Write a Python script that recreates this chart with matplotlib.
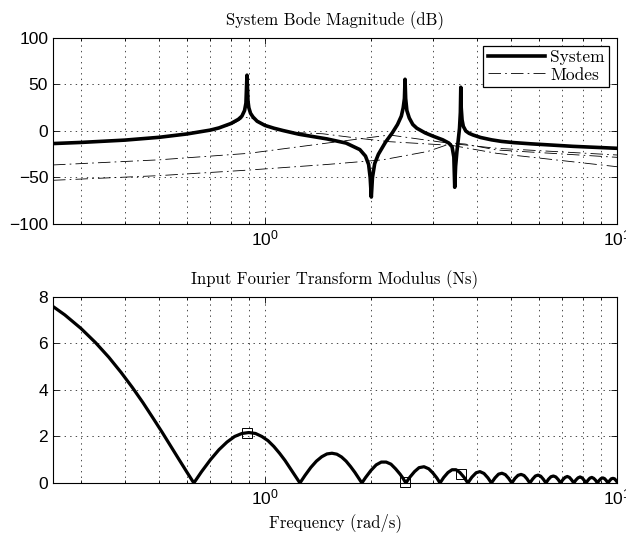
import matplotlib
matplotlib.use('Agg')
import matplotlib.pyplot as plt
from matplotlib.ticker import FixedLocator, NullFormatter

plt.rcParams['font.family'] = ['Liberation Sans', 'DejaVu Sans']
plt.rcParams['mathtext.fontset'] = 'custom'
plt.rcParams['mathtext.rm'] = 'Liberation Sans'
plt.rcParams['mathtext.it'] = 'Liberation Sans'
plt.rcParams['lines.scale_dashes'] = False

serif = ['cmr10', 'DejaVu Serif']

# system bode magnitude (rad/s, dB)
sys_w = [0.25, 0.3, 0.4, 0.5, 0.6, 0.7, 0.74, 0.8, 0.84, 0.86, 0.875, 0.883, 0.889,
         0.895, 0.9, 0.91, 0.925, 0.95, 1.0, 1.06, 1.125, 1.25, 1.5, 1.7, 1.86, 1.93,
         1.97, 1.99, 2.005, 2.02, 2.05, 2.1, 2.2, 2.3, 2.38, 2.44, 2.47, 2.49, 2.5,
         2.51, 2.53, 2.57, 2.63, 2.7, 2.85, 3.0, 3.2, 3.33, 3.4, 3.44, 3.46, 3.48,
         3.51, 3.54, 3.57, 3.59, 3.6, 3.61, 3.63, 3.66, 3.72, 3.8, 3.9, 4.1, 4.4,
         4.7, 5.1, 5.7, 7.5, 10.0]
sys_db = [-13.5, -12.3, -9.8, -6.8, -3.2, 1.0, 3.3, 8.0, 12.5, 16.0, 22.0, 30.0, 60.0,
          32.0, 25.0, 19.0, 15.0, 10.5, 6.0, 3.0, 0.5, -3.5, -8.5, -13.0, -20.0, -27.0,
          -36.0, -50.0, -71.0, -50.0, -35.0, -25.0, -12.0, -2.0, 7.0, 16.0, 25.0, 35.0, 55.6,
          35.0, 22.0, 14.0, 7.0, 3.0, -2.0, -5.5, -9.5, -13.0, -17.0, -28.0, -60.5, -38.0,
          -22.0, -10.0, 3.0, 20.0, 47.0, 25.0, 12.0, 5.0, 0.0, -2.5, -4.3, -7.0, -9.5,
          -11.2, -12.5, -13.8, -16.5, -18.6]

# modal contributions (dash-dot lines)
m1_w = [0.25, 0.5, 0.7, 0.8, 0.85, 0.87, 0.93, 1.0, 1.2, 1.46, 1.86, 2.26, 3.4, 4.55, 10.0]
m1_db = [-14.2, -7.5, 0.5, 6.5, 12.0, 15.0, 13.0, 5.0, -1.5, -3.0, -8.0, -11.5, -15.5, -24.0, -38.4]
m2_w = [0.25, 0.5, 0.9, 1.5, 2.26, 2.9, 3.4, 4.55, 10.0]
m2_db = [-36.5, -31.0, -24.0, -13.0, -4.3, -10.0, -13.5, -18.6, -25.8]
m3_w = [0.25, 0.5, 0.9, 1.5, 2.16, 2.9, 3.4, 3.7, 4.55, 10.0]
m3_db = [-53.0, -48.0, -42.0, -36.0, -31.0, -22.0, -13.0, -14.0, -20.4, -28.3]

# input fourier transform modulus (rad/s, Ns)
ft_w = [0.25, 0.27, 0.3, 0.33, 0.36, 0.39, 0.42, 0.45, 0.48, 0.51, 0.54, 0.57, 0.6, 0.628,
        0.66, 0.7, 0.74, 0.78, 0.82, 0.86, 0.9, 0.94, 0.98, 1.02, 1.06, 1.1, 1.14, 1.18, 1.22, 1.257,
        1.3, 1.35, 1.4, 1.45, 1.5, 1.55, 1.6, 1.65, 1.7, 1.75, 1.8, 1.85, 1.885,
        1.93, 2.0, 2.07, 2.14, 2.21, 2.28, 2.35, 2.42, 2.47, 2.513,
        2.58, 2.66, 2.74, 2.83, 2.92, 3.0, 3.08, 3.142,
        3.22, 3.31, 3.4, 3.49, 3.58, 3.68, 3.77,
        3.87, 3.98, 4.08, 4.19, 4.3, 4.398,
        4.503, 4.608, 4.712, 4.817, 4.922, 5.027,
        5.132, 5.236, 5.341, 5.446, 5.55, 5.655,
        5.76, 5.864, 5.969, 6.074, 6.178, 6.283,
        6.388, 6.493, 6.597, 6.702, 6.807, 6.912,
        7.016, 7.121, 7.226, 7.33, 7.435, 7.54,
        7.645, 7.749, 7.854, 7.959, 8.063, 8.168,
        8.273, 8.378, 8.482, 8.587, 8.692, 8.796,
        8.901, 9.006, 9.11, 9.215, 9.32, 9.425,
        9.53, 9.634, 9.739, 9.843, 9.948, 10.0]
ft_val = [7.59, 7.23, 6.65, 6.04, 5.41, 4.76, 4.11, 3.46, 2.81, 2.19, 1.58, 1.01, 0.47, 0.0,
          0.48, 1.0, 1.43, 1.76, 2.0, 2.13, 2.17, 2.13, 2.0, 1.82, 1.57, 1.28, 0.97, 0.63, 0.3, 0.0,
          0.33, 0.67, 0.94, 1.13, 1.25, 1.28, 1.24, 1.12, 0.94, 0.71, 0.46, 0.19, 0.0,
          0.23, 0.54, 0.78, 0.9, 0.9, 0.81, 0.61, 0.38, 0.19, 0.0,
          0.25, 0.49, 0.66, 0.7, 0.61, 0.43, 0.21, 0.0,
          0.24, 0.45, 0.57, 0.57, 0.45, 0.24, 0.0,
          0.25, 0.44, 0.49, 0.41, 0.22, 0.0,
          0.22, 0.38, 0.42, 0.36, 0.2, 0.0,
          0.2, 0.33, 0.37, 0.32, 0.18, 0.0,
          0.17, 0.3, 0.34, 0.29, 0.16, 0.0,
          0.16, 0.27, 0.3, 0.26, 0.15, 0.0,
          0.14, 0.24, 0.28, 0.24, 0.13, 0.0,
          0.13, 0.22, 0.26, 0.22, 0.12, 0.0,
          0.12, 0.21, 0.24, 0.2, 0.12, 0.0,
          0.11, 0.19, 0.22, 0.19, 0.11, 0.0,
          0.1, 0.18, 0.2, 0.18, 0.1, 0.05]

# input spectrum at the three natural frequencies
mark_w = [0.887, 2.5, 3.6]
mark_val = [2.16, 0.05, 0.37]

minor_x = [0.3, 0.4, 0.5, 0.6, 0.7, 0.8, 0.9, 2, 3, 4, 5, 6, 7, 8, 9]
dashdot = (0, (9, 3, 1.2, 3))
dotted = (0, (1, 3))

fig = plt.figure(figsize=(6.26, 5.35), dpi=100)
ax1 = fig.add_axes([0.0847, 0.5813, 0.9009, 0.3477])
ax2 = fig.add_axes([0.0847, 0.0972, 0.9009, 0.3477])

ax1.plot(sys_w, sys_db, color='k', lw=2.6, label='System', zorder=3)
ax1.plot(m1_w, m1_db, color='k', lw=0.6, ls=dashdot, label='Modes', zorder=2)
ax1.plot(m2_w, m2_db, color='k', lw=0.6, ls=dashdot, zorder=2)
ax1.plot(m3_w, m3_db, color='k', lw=0.6, ls=dashdot, zorder=2)
ax1.set_ylim(-100, 100)
ax1.set_yticks([-100, -50, 0, 50, 100])
ax1.set_title('System Bode Magnitude (dB)', family=serif, fontsize=12, pad=9)
leg = ax1.legend(loc='upper right', prop={'family': serif, 'size': 12.5}, fancybox=False,
                 framealpha=1, edgecolor='k', borderpad=0.25, labelspacing=0.1,
                 handlelength=3.3, handletextpad=0.3, borderaxespad=0.45)
leg.get_frame().set_linewidth(0.9)

ax2.plot(ft_w, ft_val, color='k', lw=2.3, zorder=3)
ax2.plot(mark_w, mark_val, ls='none', marker='s', ms=6.5, mfc='none', mec='k',
         mew=0.7, clip_on=False, zorder=4)
ax2.set_ylim(0, 8)
ax2.set_yticks([0, 2, 4, 6, 8])
ax2.set_title('Input Fourier Transform Modulus (Ns)', family=serif, fontsize=12, pad=9)
ax2.set_xlabel('Frequency (rad/s)', family=serif, fontsize=12, labelpad=4)

for ax in (ax1, ax2):
    ax.set_xscale('log')
    ax.set_xlim(0.25, 10)
    ax.xaxis.set_major_locator(FixedLocator([1, 10]))
    ax.set_xticklabels([r'$10^0$', r'$10^1$'])
    ax.xaxis.set_minor_locator(FixedLocator(minor_x))
    ax.xaxis.set_minor_formatter(NullFormatter())
    ax.grid(True, which='both', axis='x', color='k', lw=0.5, ls=dotted)
    ax.grid(True, which='major', axis='y', color='k', lw=0.5, ls=dotted)
    ax.tick_params(which='both', direction='in', top=True, right=True, labelsize=12.5)
    ax.tick_params(which='major', length=4, width=0.6)
    ax.tick_params(which='minor', length=2.5, width=0.6)
    for s in ax.spines.values():
        s.set_linewidth(0.8)

fig.savefig('out.png', dpi=100)
